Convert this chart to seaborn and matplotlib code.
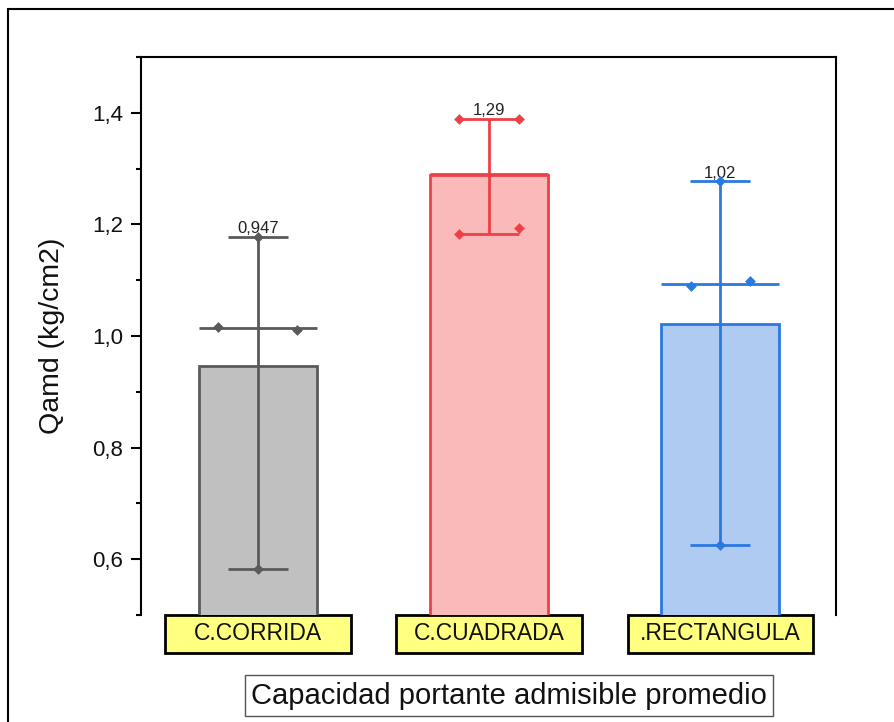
import matplotlib
matplotlib.use("Agg")
import matplotlib.pyplot as plt
from matplotlib.patches import Rectangle
from matplotlib.transforms import blended_transform_factory
from matplotlib.ticker import MultipleLocator, FuncFormatter
import numpy as np
import pandas as pd
import seaborn as sns

# Measured bearing capacity (kg/cm2) for each footing type
categorias = ["C.CORRIDA", "C.CUADRADA", ".RECTANGULA"]
qamd_corrida = [1.017, 1.010, 1.178, 0.583]
qamd_cuadrada = [1.389, 1.389, 1.182, 1.193]
qamd_rectangular = [1.089, 1.098, 1.277, 0.625]

# Horizontal spread of the individual points inside each bar
desplaz_corrida = [-0.17, 0.17, 0.0, 0.0]
desplaz_cuadrada = [-0.13, 0.13, -0.13, 0.13]
desplaz_rectangular = [-0.125, 0.13, 0.0, 0.0]

y_ticks = [0.6, 0.8, 1.0, 1.2, 1.4]

relleno = ["#C0C0C0", "#FBBABA", "#AFCBF1"]
borde = ["#5A5A5A", "#EE4048", "#2A79E0"]

valores = [qamd_corrida, qamd_cuadrada, qamd_rectangular]
desplaz = [desplaz_corrida, desplaz_cuadrada, desplaz_rectangular]

df = pd.DataFrame({
    "tipo": np.repeat(categorias, [len(v) for v in valores]),
    "qamd": np.concatenate(valores),
})

sns.set_style("ticks")
plt.rcParams["font.family"] = ["Liberation Sans", "DejaVu Sans"]

fig = plt.figure(figsize=(8.95, 7.22), dpi=100)
ax = fig.add_axes([141 / 895, 1 - 615 / 722, 695 / 895, 558 / 722])

sns.barplot(data=df, x="tipo", y="qamd", order=categorias, estimator="mean",
            errorbar=None, palette=relleno, hue="tipo", legend=False,
            saturation=1, width=0.51, linewidth=2, ax=ax, zorder=2)
for barra, c in zip(ax.patches, borde):
    barra.set_edgecolor(c)
    barra.set_linewidth(2)

cap = 0.13
for i, (vals, dx) in enumerate(zip(valores, desplaz)):
    v = np.array(vals)
    c = borde[i]
    lo, hi, med, media = v.min(), v.max(), np.median(v), v.mean()
    ax.vlines(i, lo, hi, color=c, lw=2, zorder=3)
    ax.hlines([lo, hi], i - cap, i + cap, color=c, lw=2, zorder=3)
    ax.hlines(med, i - 0.255, i + 0.255, color=c, lw=2, zorder=3)
    ax.scatter(i + np.array(dx), v, marker="D", s=30, color=c, zorder=4,
               linewidths=0)
    ax.annotate(f"{media:.3g}".replace(".", ","), xy=(i, hi),
                xytext=(0, 0.5), textcoords="offset points",
                ha="center", va="bottom", fontsize=12, color="#222222")

ax.set_xlim(-0.505, 2.5)
ax.set_ylim(0.5, 1.5)
ax.set_yticks(y_ticks)
ax.yaxis.set_minor_locator(MultipleLocator(0.1))
ax.yaxis.set_major_formatter(FuncFormatter(lambda v, p: f"{v:.1f}".replace(".", ",")))
ax.tick_params(axis="y", which="major", length=7, width=1.5, pad=6,
               labelsize=16, color="black", labelcolor="#111111")
ax.tick_params(axis="y", which="minor", length=3.5, width=1.5, color="black")

for lado in ["left", "top", "right"]:
    ax.spines[lado].set_visible(True)
    ax.spines[lado].set_linewidth(1.5)
    ax.spines[lado].set_color("black")
ax.spines["bottom"].set_visible(False)

# Category labels in yellow boxes below the plot
ax.tick_params(axis="x", length=0, pad=13.5, labelsize=16.5,
               labelcolor="#111111")
for lab in ax.get_xticklabels():
    lab.set_verticalalignment("center")
trans = blended_transform_factory(ax.transData, ax.transAxes)
for i in range(len(categorias)):
    ax.add_patch(Rectangle((i - 0.4015, -0.068), 0.803, 0.068,
                           transform=trans, clip_on=False,
                           facecolor="#FFFF80", edgecolor="black",
                           linewidth=2, zorder=0.2))

ax.set_xlabel("Capacidad portante admisible promedio", fontsize=21,
              color="#111111",
              bbox=dict(boxstyle="square,pad=0.22", facecolor="white",
                        edgecolor="#555555", linewidth=1))
ax.xaxis.set_label_coords(0.5295, -0.1443)
ax.xaxis.label.set_verticalalignment("center")

ax.set_ylabel("Qamd (kg/cm2)", fontsize=20.5, color="#111111")
ax.yaxis.set_label_coords(-0.128, 0.5)
ax.yaxis.label.set_verticalalignment("center")

# Outer frame of the figure
fig.add_artist(Rectangle((8 / 895, -1), 2, 2 - 9 / 722,
                         transform=fig.transFigure, fill=False,
                         edgecolor="black", linewidth=1.5))

fig.savefig("out.png", dpi=100)
